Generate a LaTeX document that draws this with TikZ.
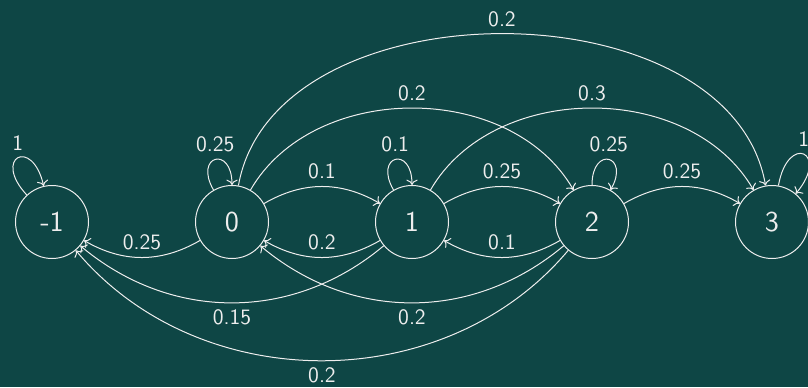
\documentclass[tikz,border=0pt]{standalone}
\usetikzlibrary{arrows.meta}
\definecolor{bgteal}{RGB}{14,70,69}
\definecolor{fg}{RGB}{238,238,238}
\begin{document}
\begin{tikzpicture}[x=0.5pt,y=0.5pt,
  state/.style={circle,draw=fg,line width=0.5pt,minimum size=36.5pt,inner sep=0pt,
    text=fg,font=\sffamily\fontsize{14.4}{17}\selectfont},
  tr/.style={draw=fg,line width=0.5pt,->},
  lbl/.style={text=fg,font=\sffamily\fontsize{11}{13}\selectfont,midway}]
\useasboundingbox (0,0) rectangle (808,387);
\fill[bgteal] (0,0) rectangle (808,387);
\node[state] (m1) at (52,165) {-1};
\node[state] (s0) at (232,165) {0};
\node[state] (s1) at (412,165) {1};
\node[state] (s2) at (592,165) {2};
\node[state] (s3) at (772,165) {3};
% loops
\draw[tr] (m1) to[out=133,in=103,distance=25.5pt] node[lbl,above] {1} (m1);
\draw[tr] (s0) to[out=120,in=90,distance=20pt] node[lbl,above] {0.25} (s0);
\draw[tr] (s1) to[out=120,in=90,distance=20pt] node[lbl,above] {0.1} (s1);
\draw[tr] (s2) to[out=90,in=60,distance=20pt] node[lbl,above] {0.25} (s2);
\draw[tr] (s3) to[out=80,in=50,distance=27pt] node[lbl,above] {1} (s3);
% neighbours
\draw[tr] (s0) to[bend left=30] node[lbl,above] {0.25} (m1);
\draw[tr] (s0) to[bend left=30] node[lbl,above] {0.1} (s1);
\draw[tr] (s1) to[bend left=30] node[lbl,above] {0.2} (s0);
\draw[tr] (s1) to[bend left=30] node[lbl,above] {0.25} (s2);
\draw[tr] (s2) to[bend left=30] node[lbl,above] {0.1} (s1);
\draw[tr] (s2) to[bend left=30] node[lbl,above] {0.25} (s3);
% long top
\draw[tr] (s0) to[bend left=60] node[lbl,above] {0.2} (s2);
\draw[tr] (s1) to[bend left=60] node[lbl,above] {0.3} (s3);
\draw[tr] (s0) to[bend left=80] node[lbl,above] {0.2} (s3);
% long bottom
\draw[tr] (s1) to[bend left=40] node[lbl,below] {0.15} (m1);
\draw[tr] (s2) to[bend left=40] node[lbl,below] {0.2} (s0);
\draw[tr] (s2) to[bend left=50] node[lbl,below] {0.2} (m1);
\end{tikzpicture}
\end{document}
